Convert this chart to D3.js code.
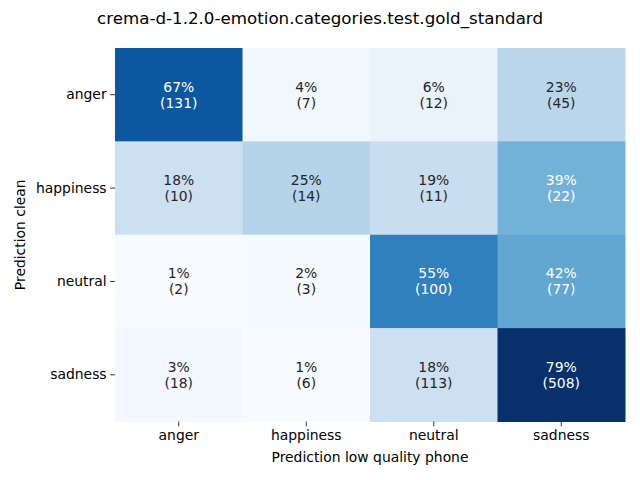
<!DOCTYPE html>
<html><head><meta charset="utf-8">
<script src="https://cdn.jsdelivr.net/npm/d3@7"></script>
<style>body{margin:0;background:#fff}svg{display:block}text{font-family:"DejaVu Sans",sans-serif}</style>
</head><body>
<script>
const title = "crema-d-1.2.0-emotion.categories.test.gold_standard";
const rowLabels = ["anger", "happiness", "neutral", "sadness"];
const colLabels = ["anger", "happiness", "neutral", "sadness"];
const countsAnger = [131, 7, 12, 45];
const countsHappiness = [10, 14, 11, 22];
const countsNeutral = [2, 3, 100, 77];
const countsSadness = [18, 6, 113, 508];
const xLabel = "Prediction low quality phone";
const yLabel = "Prediction clean";
const bluesStops = ["#f7fbff","#deebf7","#c6dbef","#9ecae1","#6baed6","#4292c6","#2171b5","#08519c","#08306b"];

const counts = [countsAnger, countsHappiness, countsNeutral, countsSadness];
const cells = [];
counts.forEach((row, i) => {
  const tot = d3.sum(row);
  row.forEach((c, j) => cells.push({r: rowLabels[i], c: colLabels[j], n: c, p: c / tot}));
});

const W = 640, H = 480;
const L = 115, R = 625, T = 48, B = 421.5;
const svg = d3.select("body").append("svg").attr("width", W).attr("height", H);

const x = d3.scaleBand().domain(colLabels).range([L, R]);
const y = d3.scaleBand().domain(rowLabels).range([T, B]);
const pmin = d3.min(cells, d => d.p), pmax = d3.max(cells, d => d.p);
const cmap = d3.scaleLinear()
  .domain(bluesStops.map((_, k) => pmin + (pmax - pmin) * k / (bluesStops.length - 1)))
  .range(bluesStops).interpolate(d3.interpolateRgb).clamp(true);

function lum(col) {
  const c = d3.rgb(col);
  const f = v => { v /= 255; return v <= 0.03928 ? v / 12.92 : Math.pow((v + 0.055) / 1.055, 2.4); };
  return 0.2126 * f(c.r) + 0.7152 * f(c.g) + 0.0722 * f(c.b);
}

svg.selectAll("rect.cell").data(cells).enter().append("rect")
  .attr("x", d => x(d.c)).attr("y", d => y(d.r))
  .attr("width", x.bandwidth() + 0.5).attr("height", y.bandwidth() + 0.5)
  .attr("fill", d => cmap(d.p));

const ann = svg.selectAll("text.ann").data(cells).enter().append("text")
  .attr("text-anchor", "middle")
  .attr("font-size", "13.9px")
  .attr("fill", d => lum(cmap(d.p)) > 0.408 ? "#262626" : "#ffffff");
ann.append("tspan").attr("x", d => x(d.c) + x.bandwidth() / 2).attr("y", d => y(d.r) + y.bandwidth() / 2 - 3)
  .text(d => Math.round(d.p * 100) + "%");
ann.append("tspan").attr("x", d => x(d.c) + x.bandwidth() / 2).attr("y", d => y(d.r) + y.bandwidth() / 2 + 13)
  .text(d => "(" + d.n + ")");

const xAxis = d3.axisBottom(x).tickSize(4.9).tickPadding(3.5);
const gx = svg.append("g").attr("transform", `translate(0,${B})`).call(xAxis);
gx.select(".domain").remove();
gx.selectAll("text").attr("font-size", "13.9px").attr("fill", "#000").style("font-family", "DejaVu Sans");
gx.selectAll("line").attr("stroke", "#000").attr("stroke-width", 0.8);

const yAxis = d3.axisLeft(y).tickSize(4.9).tickPadding(3.5);
const gy = svg.append("g").attr("transform", `translate(${L},0)`).call(yAxis);
gy.select(".domain").remove();
gy.selectAll("text").attr("font-size", "13.9px").attr("fill", "#000").style("font-family", "DejaVu Sans");
gy.selectAll("line").attr("stroke", "#000").attr("stroke-width", 0.8);

svg.append("text").attr("x", (L + R) / 2).attr("y", 462).attr("text-anchor", "middle")
  .attr("font-size", "13.9px").text(xLabel);
svg.append("text").attr("transform", `translate(25,${(T + B) / 2}) rotate(-90)`).attr("text-anchor", "middle")
  .attr("font-size", "13.9px").text(yLabel);
svg.append("text").attr("x", 320).attr("y", 24).attr("text-anchor", "middle")
  .attr("font-size", "16.7px").text(title);
</script>
</body></html>
